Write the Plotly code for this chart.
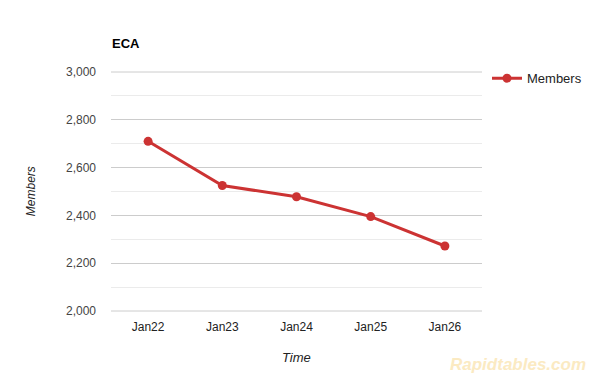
import plotly.graph_objects as go

categories = ["Jan22", "Jan23", "Jan24", "Jan25", "Jan26"]
members = [2710, 2525, 2478, 2395, 2272]
series_name = "Members"
chart_title = "ECA"
x_title = "Time"
y_title = "Members"
watermark = "Rapidtables.com"
y_min, y_max, y_major, y_minor = 2000, 3000, 200, 100

W, H = 592, 379
L, R, T, B = 111, 482, 71.7, 311

def px(x):
    return (x - L) / (R - L)

def py(y):
    return (B - y) / (B - T)

RED = "#cc3333"
FONT = "Liberation Sans, Arial, sans-serif"

fig = go.Figure()
fig.add_trace(go.Scatter(
    x=categories, y=members, name=series_name, mode="lines+markers",
    line=dict(color=RED, width=3), marker=dict(color=RED, size=9),
))

# edge gridlines (plotly hides grid lines lying on the plot boundary)
for v in (0, 1):
    fig.add_shape(type="line", xref="paper", yref="paper", x0=0, x1=1, y0=v, y1=v,
                  line=dict(color="#cccccc", width=1), layer="below")

fig.update_layout(
    width=W, height=H,
    margin=dict(l=L, r=W - R, t=T, b=H - B, pad=0, autoexpand=False),
    paper_bgcolor="white", plot_bgcolor="white",
    font=dict(family=FONT, size=12, color="#444444"),
    showlegend=True,
    legend=dict(x=px(487), y=py(78), xanchor="left", yanchor="middle",
                font=dict(size=13, color="#222222"), bgcolor="rgba(0,0,0,0)",
                itemwidth=30),
    xaxis=dict(type="category", range=[-0.5, 4.5], showgrid=False, zeroline=False,
               showline=False, ticks="", tickfont=dict(size=12, color="#222222"),
               ticklabelstandoff=7, fixedrange=True),
    yaxis=dict(range=[y_min, y_max], dtick=y_major, tick0=y_min, tickformat=",",
               showgrid=True, gridcolor="#cccccc", gridwidth=1,
               zeroline=False, showline=False, ticks="",
               tickfont=dict(size=12, color="#444444"), ticklabelstandoff=14,
               minor=dict(dtick=y_minor, tick0=y_min, showgrid=True, gridcolor="#ebebeb", gridwidth=1),
               fixedrange=True),
    annotations=[
        dict(text="<b>" + chart_title + "</b>", x=px(110), y=py(43), xref="paper", yref="paper",
             xanchor="left", yanchor="middle", showarrow=False,
             font=dict(size=13, color="#000000", family=FONT)),
        dict(text="<i>" + y_title + "</i>", x=px(31), y=py(191), xref="paper", yref="paper",
             xanchor="center", yanchor="middle", showarrow=False, textangle=-90,
             font=dict(size=12, color="#222222", family=FONT)),
        dict(text="<i>" + x_title + "</i>", x=px(296), y=py(358), xref="paper", yref="paper",
             xanchor="center", yanchor="middle", showarrow=False,
             font=dict(size=13, color="#222222", family=FONT)),
        dict(text="<b><i>" + watermark + "</i></b>", x=px(518), y=py(365), xref="paper", yref="paper",
             xanchor="center", yanchor="middle", showarrow=False,
             font=dict(size=17, color="#fbeac2", family=FONT)),
    ],
)

fig.write_html("out.html", config={"displayModeBar": False},
               post_script="document.body.style.margin='0';document.body.style.overflow='hidden';")
